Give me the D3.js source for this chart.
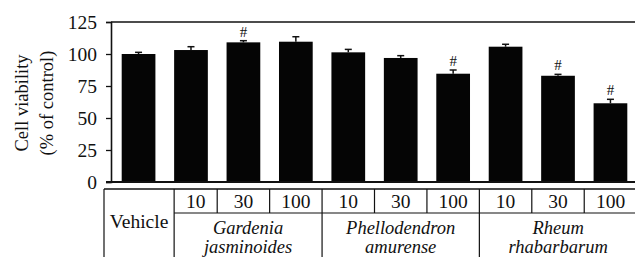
<!DOCTYPE html>
<html>
<head>
<meta charset="utf-8">
<script src="https://cdn.jsdelivr.net/npm/d3@7"></script>
<style>
  html, body { margin: 0; padding: 0; background: #fff; font-family: "Liberation Serif"; }
  svg { display: block; font-family: "Liberation Serif"; }
  svg text { font-family: "Liberation Serif" !important; }
</style>
</head>
<body>
<svg id="chart" width="635" height="257" font-family="Liberation Serif"></svg>
<script>
// ---- data ----
const categories = ["Vehicle", "GJ-10", "GJ-30", "GJ-100", "PA-10", "PA-30", "PA-100", "RR-10", "RR-30", "RR-100"];
const doses = ["", "10", "30", "100", "10", "30", "100", "10", "30", "100"];
const means = [100, 103.1, 109.1, 109.6, 101.3, 96.9, 84.6, 105.7, 83.0, 61.5];
const errors = [1.3, 2.6, 1.3, 3.9, 2.3, 1.8, 2.9, 1.9, 1.1, 3.1];
const significant = [false, false, true, false, false, false, true, false, true, true];
const speciesLine1 = ["Gardenia", "Phellodendron", "Rheum"];
const speciesLine2 = ["jasminoides", "amurense", "rhabarbarum"];
const speciesFirstIndex = [1, 4, 7];
const yTicks = [0, 25, 50, 75, 100, 125];
const yLabelLines = ["Cell viability", "(% of control)"];
const controlLabel = "Vehicle";

// ---- layout ----
const INK = "#111";
const W = 635, H = 257;
const axisX = 111, yTop = 22, yBottom = 182;
const svg = d3.select("#chart");

function txt(sel, size) {
  return sel.attr("font-family", "Liberation Serif")
    .style("font", `${size}px 'Liberation Serif'`)
    .attr("fill", INK);
}

const x = d3.scaleBand().domain(categories).range([axisX, 638]).paddingInner(0.357).paddingOuter(0.204);
const y = d3.scaleLinear().domain([0, 125]).range([yBottom, yTop]);

// frame top line
svg.append("line").attr("x1", axisX).attr("x2", W).attr("y1", y(125)).attr("y2", y(125))
  .attr("stroke", INK).attr("stroke-width", 1.6);

// bars
svg.append("g").selectAll("rect").data(categories).join("rect")
  .attr("x", d => x(d)).attr("width", x.bandwidth())
  .attr("y", (d, i) => y(means[i])).attr("height", (d, i) => y(0) - y(means[i]))
  .attr("fill", "#050505");

// error bars
const eg = svg.append("g").attr("stroke", INK).attr("stroke-width", 1.5);
categories.forEach((c, i) => {
  const cx = x(c) + x.bandwidth() / 2;
  eg.append("line").attr("x1", cx).attr("x2", cx).attr("y1", y(means[i])).attr("y2", y(means[i] + errors[i]));
  eg.append("line").attr("x1", cx - 3.5).attr("x2", cx + 3.5).attr("y1", y(means[i] + errors[i])).attr("y2", y(means[i] + errors[i]));
});

// significance marks
txt(svg.append("g").selectAll("text").data(categories.filter((c, i) => significant[i])).join("text")
  .attr("x", d => x(d) + x.bandwidth() / 2)
  .attr("y", d => { const i = categories.indexOf(d); return y(means[i] + errors[i]) - 4; })
  .attr("text-anchor", "middle").text("#"), 15);

// y axis
const yAxis = svg.append("g").attr("transform", `translate(${axisX},0)`)
  .call(d3.axisLeft(y).tickValues(yTicks).tickSize(5).tickPadding(9));
yAxis.attr("font-family", "Liberation Serif").attr("font-size", 19.5);
yAxis.select(".domain").attr("stroke", INK).attr("stroke-width", 1.6);
yAxis.selectAll(".tick line").attr("stroke", INK).attr("stroke-width", 1.3);
txt(yAxis.selectAll(".tick text"), 19.5).attr("dy", "0.34em");

// x axis baseline
svg.append("line").attr("x1", axisX - 5).attr("x2", W).attr("y1", y(0)).attr("y2", y(0))
  .attr("stroke", INK).attr("stroke-width", 1.8);

// y label
const yl = svg.append("g").attr("transform", `translate(0,${(yTop + yBottom) / 2 + 1}) rotate(-90)`);
yLabelLines.forEach((t, k) => {
  txt(yl.append("text").attr("x", 0).attr("y", 28 + k * 25).attr("text-anchor", "middle").text(t), 18.5);
});

// ---- table under the axis ----
const tTop = 189, tMid = 213, tBot = 262, tLeft = 104;
const bw = x.bandwidth();
const bounds = categories.map((c, i) => {
  if (i === 0) return tLeft;
  if (i === 1) return x(c);
  return (x(categories[i - 1]) + bw + x(c)) / 2;
});
bounds.push(637);

const tg = svg.append("g").attr("stroke", INK).attr("stroke-width", 1.2);
tg.append("line").attr("x1", tLeft).attr("x2", W).attr("y1", tTop).attr("y2", tTop).attr("stroke-width", 1.5);
tg.append("line").attr("x1", bounds[1]).attr("x2", W).attr("y1", tMid).attr("y2", tMid);
bounds.slice(0, 10).forEach((bx, i) => {
  const full = i === 0 || speciesFirstIndex.includes(i);
  tg.append("line").attr("x1", bx).attr("x2", bx).attr("y1", tTop).attr("y2", full ? tBot : tMid);
});

// dose labels
txt(svg.append("g").selectAll("text").data(doses.map((d, i) => ({ d, i })).filter(o => o.d !== "")).join("text")
  .attr("x", o => (bounds[o.i] + bounds[o.i + 1]) / 2).attr("y", 207.5)
  .attr("text-anchor", "middle").text(o => o.d), 19.5);

// vehicle label
txt(svg.append("text").attr("x", (bounds[0] + bounds[1]) / 2).attr("y", 227.5)
  .attr("text-anchor", "middle").text(controlLabel), 19.5);

// species labels
speciesFirstIndex.forEach((s, k) => {
  const cx = (bounds[s] + bounds[s + 3]) / 2;
  txt(svg.append("text").attr("x", cx).attr("y", 233.5).attr("text-anchor", "middle").text(speciesLine1[k]), 18.5)
    .style("font-style", "italic");
  txt(svg.append("text").attr("x", cx).attr("y", 252.5).attr("text-anchor", "middle").text(speciesLine2[k]), 18.5)
    .style("font-style", "italic");
});
</script>
</body>
</html>
